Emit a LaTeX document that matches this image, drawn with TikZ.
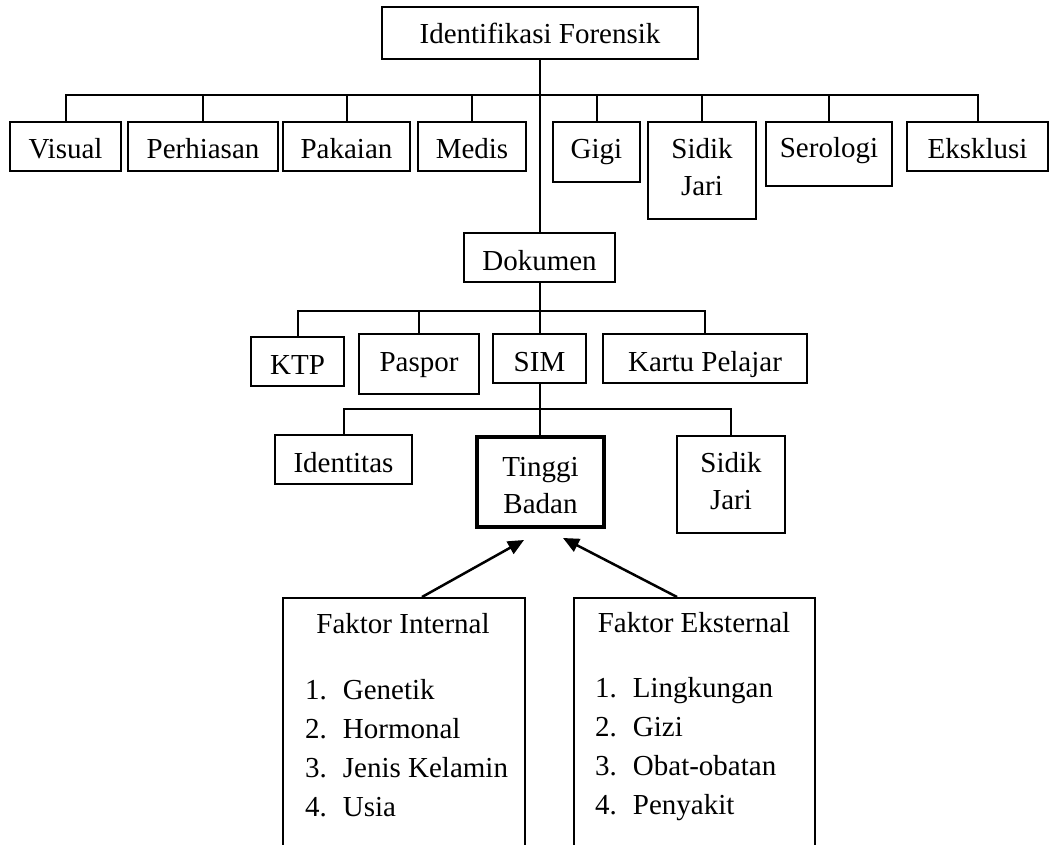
\documentclass[tikz,border=0pt]{standalone}
\usepackage{fontspec}
\setmainfont{Liberation Serif}
\usetikzlibrary{arrows.meta}
\newcommand{\duabaris}[2]{\begin{tabular}[t]{@{}c@{}}#1\\#2\end{tabular}}
\begin{document}
\begin{tikzpicture}[x=1pt,y=-1pt,
	font=\fontsize{29}{37}\selectfont,
	kotak/.style={draw,line width=2pt,inner sep=0pt,anchor=base,text height=37pt,text depth=12pt},
	garis/.style={line width=2pt},
	panah/.style={line width=2.5pt,-{Triangle[length=16pt,width=14pt]}}]
		\useasboundingbox (0,0) rectangle (1049,845);
		% puncak
		\node[kotak,minimum width=316pt,text depth=15pt] (idf) at (540,44) {Identifikasi Forensik};
		% baris 1
		\node[kotak,minimum width=111pt] (vis) at (65.5,159) {Visual};
		\node[kotak,minimum width=150pt] (perh) at (203,159) {Perhiasan};
		\node[kotak,minimum width=127pt] (pak) at (346.5,159) {Pakaian};
		\node[kotak,minimum width=108pt] (med) at (472,159) {Medis};
		\node[kotak,minimum width=87pt,text depth=23pt] (gigi) at (596.5,159) {Gigi};
		\node[kotak,minimum width=108pt,text depth=60pt] (sj) at (702,159) {\duabaris{Sidik}{Jari}};
		\node[kotak,minimum width=126pt,text height=36pt,text depth=28pt] (ser) at (829,158) {Serologi};
		\node[kotak,minimum width=141pt] (eks) at (977.5,159) {Eksklusi};
		% dokumen
		\node[kotak,minimum width=151pt] (dok) at (539.5,270) {Dokumen};
		\node[kotak,minimum width=93pt] (ktp) at (297.5,374) {KTP};
		\node[kotak,minimum width=120pt,text height=37pt,text depth=23pt] (pas) at (419,371) {Paspor};
		\node[kotak,minimum width=93pt] (sim) at (539.5,371) {SIM};
		\node[kotak,minimum width=204pt] (kp) at (705,371) {Kartu Pelajar};
		% SIM
		\node[kotak,minimum width=137pt] (idt) at (343.5,472) {Identitas};
		\node[kotak,line width=4pt,minimum width=127pt,text height=39pt,text depth=51pt] (tb) at (540.5,476) {\duabaris{Tinggi}{Badan}};
		\node[kotak,minimum width=108pt,text height=36pt,text depth=61pt] (sj2) at (731,472) {\duabaris{Sidik}{Jari}};
		% faktor
		\node[draw,line width=2pt,anchor=north,inner sep=0pt,minimum width=242pt,minimum height=270pt] (fi) at (404,597) {};
		\node[draw,line width=2pt,anchor=north,inner sep=0pt,minimum width=241pt,minimum height=270pt] (fe) at (694.5,597) {};
		\node[anchor=base,inner sep=0pt] (fiJudul) at (403,633) {Faktor Internal};
		\node[anchor=base,inner sep=0pt] (feJudul) at (694,632) {Faktor Eksternal};
		\node[anchor=base west,inner sep=0pt,font=\fontsize{29}{39}\selectfont] (fiDaftar) at (305,699)
			{\begin{tabular}[t]{@{}l@{\hspace{16pt}}l@{}}1.&Genetik\\2.&Hormonal\\3.&Jenis Kelamin\\4.&Usia\end{tabular}};
		\node[anchor=base west,inner sep=0pt,font=\fontsize{29}{39}\selectfont] (feDaftar) at (595,697)
			{\begin{tabular}[t]{@{}l@{\hspace{16pt}}l@{}}1.&Lingkungan\\2.&Gizi\\3.&Obat-obatan\\4.&Penyakit\end{tabular}};
		% garis
		\coordinate (bus1) at (540,95);
		\coordinate (bus2) at (540,311);
		\coordinate (bus3) at (540,409);
		\draw[garis] (idf.south) -- (idf.south |- dok.north);
		\draw[garis] (vis.north) |- (bus1) -| (eks.north);
		\foreach \n in {perh,pak,med,gigi,sj,ser}
			\draw[garis] (\n.north) -- (\n.north |- bus1);
		\draw[garis] (dok.south) -- (dok.south |- sim.north);
		\draw[garis] (ktp.north) |- (bus2) -| (kp.north);
		\draw[garis] (pas.north) -- (pas.north |- bus2);
		\draw[garis] (sim.south) -- (sim.south |- tb.north);
		\draw[garis] (idt.north) |- (bus3) -| (sj2.north);
		% panah
		\draw[panah] ([xshift=18pt]fi.north) -- ([xshift=-16.5pt,yshift=-11pt]tb.south);
		\draw[panah] ([xshift=-17.5pt]fe.north) -- ([xshift=22.5pt,yshift=-9pt]tb.south);
\end{tikzpicture}
\end{document}
